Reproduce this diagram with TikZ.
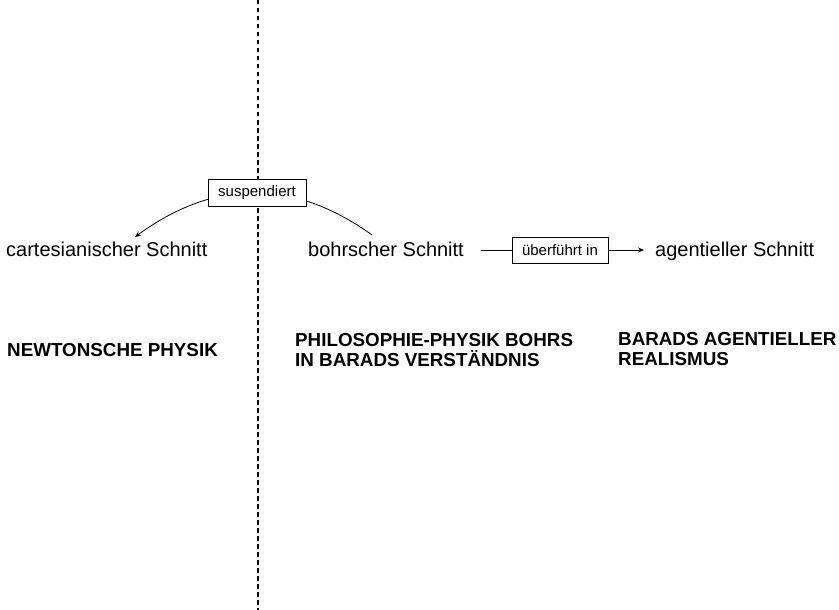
\documentclass[tikz,border=0pt]{standalone}
\usepackage{fontspec}
\setmainfont{Liberation Sans}
\usetikzlibrary{arrows.meta}
\begin{document}
\begin{tikzpicture}[x=1pt,y=-1pt,
  label/.style={inner sep=0pt,anchor=base west,font=\fontsize{20}{24}\selectfont},
  head/.style={inner sep=0pt,anchor=north west,align=left,font=\fontsize{18.8}{20}\selectfont\bfseries},
  tagbox/.style={draw,fill=white,line width=0.9pt,inner sep=0pt,font=\fontsize{15}{18}\selectfont},
  conn/.style={line width=0.8pt},
  cut/.style={line width=2.2pt,dash pattern=on 4.5pt off 3.5pt}
]
\useasboundingbox (0,0) rectangle (839,610);
% vertical cut
\coordinate (vtop) at (258,0);
\coordinate (vbot) at (258,610);
\draw[cut] (vtop) -- (vbot);
% texts
\node[label] (cart) at (6,256) {cartesianischer Schnitt};
\node[label] (bohr) at (308,256) {bohrscher Schnitt};
\node[label] (agent) at (655,256) {agentieller Schnitt};
\node[inner sep=0pt,anchor=base west,font=\fontsize{18.8}{20}\selectfont\bfseries] (newton) at (7,356) {NEWTONSCHE PHYSIK};
\node[head] (bohrphys) at (295,333) {PHILOSOPHIE-PHYSIK BOHRS\\IN BARADS VERSTÄNDNIS};
\node[head] (barad) at (618,332) {BARADS AGENTIELLER\\REALISMUS};
% suspended curve
\coordinate (cS) at (372,235);
\coordinate (cE) at (135,237);
\draw[conn,-{Stealth[length=6pt,width=5pt]}] (cS) .. controls (293.3,178.3) and (214.3,179) .. (cE);
\node[tagbox,minimum width=98pt,minimum height=27pt] (susp) at (257,192.5) {suspendiert};
% transfer arrow
\node[tagbox,minimum width=96pt,minimum height=26pt] (ueb) at (560,250) {überführt in};
\coordinate (uS) at (481,250);
\coordinate (uE) at (644,250);
\draw[conn] (uS) -- (ueb.west);
\draw[conn,-{Stealth[length=6pt,width=5pt]}] (ueb.east) -- (uE);
\end{tikzpicture}
\end{document}
